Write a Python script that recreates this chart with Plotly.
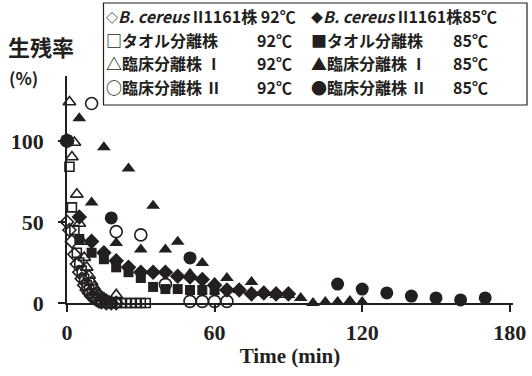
import plotly.graph_objects as go

# ---------------- data ----------------
t_bc92 = [0, 1, 2, 3, 4, 5, 6, 7, 8, 9, 10, 11, 12, 13, 14, 16, 18, 20]
y_bc92 = [50, 45, 38, 30, 24, 19, 15, 11, 8, 6, 4, 3, 2, 1, 0.5, 0, 0, 0]

t_bc85 = [0, 5, 10, 15, 20, 25, 30, 35, 40, 45, 50, 55, 60, 65, 70, 75, 80, 85, 90]
y_bc85 = [100, 53, 38, 31, 26, 22, 19, 19, 19, 16.5, 16, 14.5, 11, 8, 8, 5.6, 6.2, 5.6, 5.6]

t_tw92 = [0, 1, 2, 3, 4, 5, 6, 7, 8, 9, 10, 11, 12, 14, 16, 18, 20, 22, 24, 26, 28, 30, 32]
y_tw92 = [100, 84, 59, 45, 31, 25, 20, 15, 11, 8, 6, 4, 2, 1, 0, 0, 0, 0, 0, 0, 0, 0, 0]

t_tw85 = [0, 5, 10, 15, 20, 25, 30, 35, 40, 45, 50, 55, 60]
y_tw85 = [100, 39.5, 31, 27, 22, 19, 15.4, 9.9, 8.6, 8.6, 8, 8, 8]

t_c1_92 = [0, 1, 2, 3, 4, 5, 6, 7, 8, 9, 10, 11, 12, 13, 14, 15, 16, 17, 18, 20]
y_c1_92 = [100, 124, 90, 99, 67, 49, 38, 28, 22, 17, 13, 10, 7, 5, 4, 3, 2, 1, 0.5, 5]

t_c1_85 = [0, 5, 10, 15, 20, 25, 30, 35, 40, 45, 50, 55, 60, 65, 70, 75, 80, 85, 90,
           95, 100, 105, 110, 115, 120]
y_c1_85 = [100, 114, 62, 96, 37, 83, 33, 60, 33, 37.7, 18, 24.7, 12.3, 15.4, 8, 13, 6.2,
           4.9, 4.9, 3.1, 0, 0.6, 0.6, 1.2, 0.6]

t_c2_92 = [0, 10, 20, 30, 40, 50, 55, 60, 65]
y_c2_92 = [100, 123, 44, 42, 11.5, 1, 1, 1, 1]

t_c2_85 = [0, 18, 50, 110, 120, 130, 140, 150, 160, 170]
y_c2_85 = [100, 52.5, 27.8, 11.7, 8.6, 6.2, 4.3, 3.1, 1.9, 3.1]

x_ticks = [0, 60, 120, 180]
y_ticks = [0, 50, 100]

INK = "#231f20"

# ---------------- figure ----------------
fig = go.Figure()

series = [
    (t_c2_92, y_c2_92, "circle-open", 12),
    (t_c1_92, y_c1_92, "triangle-up-open", 11),
    (t_bc92, y_bc92, "diamond-open", 10),
    (t_tw92, y_tw92, "square-open", 9),
    (t_c2_85, y_c2_85, "circle", 13),
    (t_c1_85, y_c1_85, "triangle-up", 12),
    (t_bc85, y_bc85, "diamond", 12),
    (t_tw85, y_tw85, "square", 10),
]
for xs, ys, sym, sz in series:
    fig.add_trace(go.Scatter(
        x=xs, y=ys, mode="markers", showlegend=False, cliponaxis=False,
        marker=dict(symbol=sym, size=sz, color=INK,
                    line=dict(color=INK, width=1.6 if "open" in sym else 0)),
    ))

L, R, T, B = 67, 19, 76, 73
W, H = 532, 376
pw, ph = W - L - R, H - T - B


def px(x):
    return (x - L) / pw


def py(y):
    return (H - B - y) / ph


tick_font = dict(family="Liberation Serif", size=22, color=INK)

fig.update_layout(
    width=W, height=H,
    margin=dict(l=L, r=R, t=T, b=B, autoexpand=False),
    paper_bgcolor="white", plot_bgcolor="white",
    xaxis=dict(range=[0, 181.3], tickvals=x_ticks, ticktext=[f"<b>{v}</b>" for v in x_ticks],
               showgrid=False, zeroline=False, showline=True, linecolor=INK, linewidth=1.6,
               ticks="outside", ticklen=7, tickwidth=1.6, tickcolor=INK, tickfont=tick_font,
               ticklabelstandoff=2,
               title=dict(text="<b>Time (min)</b>", font=dict(family="Liberation Serif", size=21, color=INK),
                          standoff=4)),
    yaxis=dict(range=[0, 140], tickvals=y_ticks, ticktext=[f"<b>{v}</b>" for v in y_ticks],
               showgrid=False, zeroline=False, showline=True, linecolor=INK, linewidth=1.6,
               ticks="outside", ticklen=7, tickwidth=1.6, tickcolor=INK, tickfont=tick_font,
               ticklabelstandoff=10),
)

JP = "Noto Sans CJK JP"

# y-axis title
fig.add_annotation(x=px(6), y=py(46), xref="paper", yref="paper", xanchor="left", yanchor="middle",
                   text="<b>生残率</b>", showarrow=False, font=dict(family=JP, size=22, color=INK))
fig.add_annotation(x=px(7), y=py(77), xref="paper", yref="paper", xanchor="left", yanchor="middle",
                   text="<b>(%)</b>", showarrow=False, font=dict(family=JP, size=17, color=INK))

# legend box
fig.add_shape(type="rect", xref="paper", yref="paper", x0=px(103.5), x1=px(527), y0=py(3), y1=py(105),
              line=dict(color=INK, width=1.2), fillcolor="white", layer="above")

leg_font = dict(family=JP, size=16, color=INK)
rows_y = [16, 40, 63.5, 87]
small = "<span style='font-size:12px'>{}</span>"
left_names = [small.format("◇") + "<i>B. cereus</i> II1161株 92℃", "□タオル分離株", "△臨床分離株 Ⅰ", "○臨床分離株 Ⅱ"]
right_names = [small.format("◆") + "<i>B. cereus</i> II1161株85℃", "■タオル分離株", "▲臨床分離株 Ⅰ", "●臨床分離株 Ⅱ"]
for i, yy in enumerate(rows_y):
    fig.add_annotation(x=px(104), y=py(yy), xref="paper", yref="paper", xanchor="left", yanchor="middle",
                       text=f"<b>{left_names[i]}</b>", showarrow=False, font=leg_font)
    fig.add_annotation(x=px(309), y=py(yy), xref="paper", yref="paper", xanchor="left", yanchor="middle",
                       text=f"<b>{right_names[i]}</b>", showarrow=False, font=leg_font)
    if i > 0:
        fig.add_annotation(x=px(255), y=py(yy), xref="paper", yref="paper", xanchor="left", yanchor="middle",
                           text="<b>92℃</b>", showarrow=False, font=leg_font)
        fig.add_annotation(x=px(451), y=py(yy), xref="paper", yref="paper", xanchor="left", yanchor="middle",
                           text="<b>85℃</b>", showarrow=False, font=leg_font)

fig.write_html("out.html", post_script="document.body.style.margin='0';",
               config={"displayModeBar": False})
